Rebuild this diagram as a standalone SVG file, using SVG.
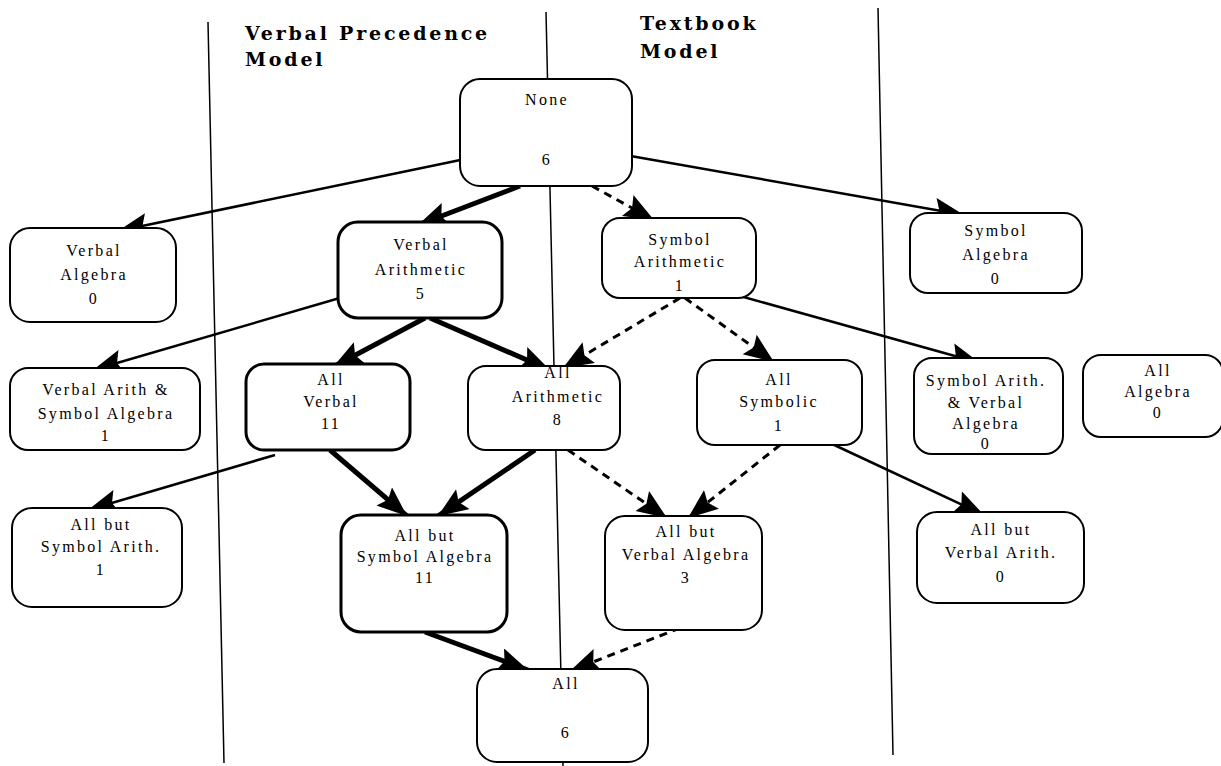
<svg xmlns="http://www.w3.org/2000/svg" width="1221" height="766" viewBox="0 0 1221 766">
<defs>
<style>
.bg{fill:#fff}
.div{stroke:#000;stroke-width:1.5;fill:none}
.box{fill:#fff;stroke:#000;stroke-width:2}
.boxb{fill:#fff;stroke:#000;stroke-width:3}
.t{font-family:"Liberation Serif",serif;font-size:16px;letter-spacing:2.3px;text-anchor:middle;fill:#000}
.h{font-family:"DejaVu Serif","Liberation Serif",serif;font-size:19px;font-weight:bold;letter-spacing:2.8px;fill:#000}
.thin{stroke:#000;stroke-width:2.5;fill:none}
.thick{stroke:#000;stroke-width:5;fill:none}
.dash{stroke:#000;stroke-width:3;fill:none;stroke-dasharray:8 6}
</style>
<marker id="ah" markerUnits="userSpaceOnUse" markerWidth="32" markerHeight="26" refX="30" refY="12" orient="auto">
<path d="M0,0 L30,12 L0,24 L5,12 z" fill="#000"/>
</marker>
</defs>
<rect class="bg" x="0" y="0" width="1221" height="766"/>
<g id="dividers">
<line class="div" x1="208" y1="22" x2="224" y2="763"/>
<line class="div" x1="546" y1="12" x2="563" y2="766"/>
<line class="div" x1="878" y1="8" x2="893" y2="755"/>
</g>
<g id="titles">
<text class="h" x="245" y="40">Verbal Precedence</text>
<text class="h" x="245" y="66">Model</text>
<text class="h" x="640" y="30">Textbook</text>
<text class="h" x="640" y="58">Model</text>
</g>
<g id="connectors">
<line class="thin" x1="470" y1="158" x2="118" y2="231" marker-end="url(#ah)"/>
<line class="thin" x1="625" y1="155" x2="964" y2="215" marker-end="url(#ah)"/>
<line class="thin" x1="350" y1="295" x2="93" y2="370" marker-end="url(#ah)"/>
<line class="thin" x1="740" y1="296" x2="980" y2="363" marker-end="url(#ah)"/>
<line class="thin" x1="275" y1="455" x2="88" y2="510" marker-end="url(#ah)"/>
<line class="thin" x1="830" y1="443" x2="984" y2="515" marker-end="url(#ah)"/>
<line class="thick" x1="520" y1="186" x2="418" y2="225" marker-end="url(#ah)"/>
<line class="thick" x1="425" y1="318" x2="333" y2="367" marker-end="url(#ah)"/>
<line class="thick" x1="430" y1="318" x2="550" y2="370" marker-end="url(#ah)"/>
<line class="thick" x1="330" y1="450" x2="407" y2="516" marker-end="url(#ah)"/>
<line class="thick" x1="535" y1="450" x2="438" y2="516" marker-end="url(#ah)"/>
<line class="thick" x1="425" y1="632" x2="528" y2="670" marker-end="url(#ah)"/>
<line class="dash" x1="592" y1="186" x2="654" y2="220" marker-end="url(#ah)"/>
<line class="dash" x1="680" y1="298" x2="563" y2="368" marker-end="url(#ah)"/>
<line class="dash" x1="685" y1="298" x2="774" y2="362" marker-end="url(#ah)"/>
<line class="dash" x1="568" y1="450" x2="667" y2="518" marker-end="url(#ah)"/>
<line class="dash" x1="780" y1="445" x2="688" y2="518" marker-end="url(#ah)"/>
<line class="dash" x1="680" y1="628" x2="570" y2="671" marker-end="url(#ah)"/>
</g>
<g id="n_none"><rect class="box" x="460" y="79" width="172" height="107" rx="20"/><text class="t" x="547" y="105">None</text><text class="t" x="547" y="165">6</text></g>
<g id="n_verbal_algebra"><rect class="box" x="10" y="228" width="166" height="94" rx="20"/><text class="t" x="94" y="256">Verbal</text><text class="t" x="94" y="280">Algebra</text><text class="t" x="94" y="304">0</text></g>
<g id="n_verbal_arith"><rect class="boxb" x="338" y="222" width="164" height="96" rx="20"/><text class="t" x="421" y="250">Verbal</text><text class="t" x="421" y="275">Arithmetic</text><text class="t" x="421" y="299">5</text></g>
<g id="n_symbol_arith"><rect class="box" x="602" y="218" width="154" height="80" rx="18"/><text class="t" x="680" y="245">Symbol</text><text class="t" x="680" y="267">Arithmetic</text><text class="t" x="680" y="291">1</text></g>
<g id="n_symbol_algebra"><rect class="box" x="910" y="213" width="172" height="80" rx="18"/><text class="t" x="996" y="236">Symbol</text><text class="t" x="996" y="260">Algebra</text><text class="t" x="996" y="284">0</text></g>
<g id="n_va_sa"><rect class="box" x="10" y="368" width="190" height="82" rx="18"/><text class="t" x="106" y="395">Verbal Arith &amp;</text><text class="t" x="106" y="419">Symbol Algebra</text><text class="t" x="106" y="441">1</text></g>
<g id="n_all_verbal"><rect class="boxb" x="246" y="364" width="164" height="86" rx="18"/><text class="t" x="331" y="385">All</text><text class="t" x="331" y="407">Verbal</text><text class="t" x="331" y="429">11</text></g>
<g id="n_all_arith"><rect class="box" x="468" y="366" width="152" height="84" rx="18"/><text class="t" x="558" y="378">All</text><text class="t" x="558" y="402">Arithmetic</text><text class="t" x="558" y="425">8</text></g>
<g id="n_all_symbolic"><rect class="box" x="697" y="360" width="165" height="85" rx="18"/><text class="t" x="779" y="385">All</text><text class="t" x="779" y="407">Symbolic</text><text class="t" x="779" y="431">1</text></g>
<g id="n_sa_va"><rect class="box" x="914" y="358" width="149" height="96" rx="18"/><text class="t" x="986" y="386">Symbol Arith.</text><text class="t" x="986" y="408">&amp; Verbal</text><text class="t" x="986" y="429">Algebra</text><text class="t" x="986" y="449">0</text></g>
<g id="n_all_algebra"><rect class="box" x="1083" y="355" width="140" height="82" rx="18"/><text class="t" x="1158" y="376">All</text><text class="t" x="1158" y="397">Algebra</text><text class="t" x="1158" y="418">0</text></g>
<g id="n_allbut_sarith"><rect class="box" x="12" y="508" width="170" height="99" rx="20"/><text class="t" x="101" y="530">All but</text><text class="t" x="101" y="552">Symbol Arith.</text><text class="t" x="101" y="575">1</text></g>
<g id="n_allbut_salg"><rect class="boxb" x="341" y="515" width="166" height="117" rx="20"/><text class="t" x="425" y="541">All but</text><text class="t" x="425" y="562">Symbol Algebra</text><text class="t" x="425" y="583">11</text></g>
<g id="n_allbut_valg"><rect class="box" x="605" y="516" width="157" height="114" rx="20"/><text class="t" x="686" y="537">All but</text><text class="t" x="686" y="560">Verbal Algebra</text><text class="t" x="686" y="583">3</text></g>
<g id="n_allbut_varith"><rect class="box" x="917" y="512" width="167" height="91" rx="20"/><text class="t" x="1001" y="535">All but</text><text class="t" x="1001" y="558">Verbal Arith.</text><text class="t" x="1001" y="582">0</text></g>
<g id="n_all"><rect class="box" x="477" y="669" width="171" height="93" rx="20"/><text class="t" x="566" y="689">All</text><text class="t" x="566" y="738">6</text></g>
</svg>
